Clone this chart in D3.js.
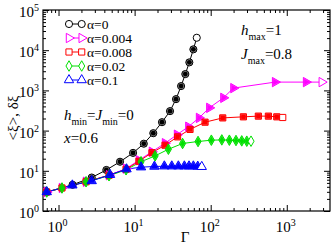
<!DOCTYPE html>
<html lang="en">
<head>
<meta charset="UTF-8">
<title>xi vs Gamma</title>
<style>
  body { margin: 0; background: #fff; }
  svg text { font-family: "Liberation Serif", "Times New Roman", serif; fill: #000; }
  .axis path { display: none; }
  .axis line { stroke: #000; stroke-width: 1; }
</style>
</head>
<body>
<svg id="chart"></svg>
<script src="https://cdnjs.cloudflare.com/ajax/libs/d3/7.9.0/d3.min.js"></script>
<script>
// data
const alphaLabels = ["α=0", "α=0.004", "α=0.008", "α=0.02", "α=0.1"];
const colors = ["#000000", "#ff00ff", "#ff0000", "#00e000", "#0000ff"];

const gammaA0 = [0.70, 1.53, 2.73, 4.25, 6.43, 9.54, 13.2, 17.6, 22.9, 29.2, 35.0, 40.8, 46.4, 52.4, 59.2, 65.6];
const xiA0 = [2.97, 4.49, 6.80, 10.5, 16.8, 27.9, 47.2, 86.2, 162, 305, 606, 1279, 2545, 4980, 10500, 20400];

const gammaA004 = [0.70, 1.11, 2.30, 4.61, 7.72, 11.4, 16.9, 25.1, 36.1, 50.9, 70.3, 96.0, 147, 199, 702, 1793, 2884];
const xiA004 = [2.97, 3.74, 5.34, 7.75, 11.3, 18.3, 29.8, 48.6, 79.1, 125, 207, 368, 653, 1140, 1608, 1608, 1608];

const gammaA008 = [0.70, 1.11, 2.30, 4.61, 7.72, 11.4, 16.9, 25.1, 36.7, 53.5, 84.3, 144, 269, 423, 573, 739, 885];
const xiA008 = [2.97, 3.74, 5.34, 7.75, 10.9, 17.3, 28.2, 43.3, 69.8, 107, 162, 207, 220, 229, 229, 220, 212];

const gammaA02 = [0.70, 1.11, 2.30, 4.61, 7.72, 12.15, 18.6, 27.8, 42.7, 68.2, 102, 140, 176, 215, 256, 298, 339];
const xiA02 = [2.97, 3.74, 5.34, 7.53, 10.6, 16.8, 23.5, 34.4, 47.8, 53.6, 57.7, 58.7, 57.7, 56.7, 55.5, 54.5, 54.5];

const gammaA1 = [0.70, 1.52, 2.73, 4.75, 7.83, 12.15, 18.2, 24.6, 30.8, 37.6, 45.1, 51.9, 59.2, 67.6, 76.3];
const xiA1 = [2.97, 4.37, 5.59, 7.98, 11.0, 12.3, 12.8, 13.0, 13.0, 13.0, 13.0, 13.0, 13.0, 12.8, 12.6];

const xDecades = [1, 10, 100, 1000];
const yDecades = [1, 10, 100, 1000, 10000, 100000];

const series = [
  { g: gammaA0, v: xiA0, sym: d3.symbolCircle, rot: 0, size: 40 },
  { g: gammaA004, v: xiA004, sym: d3.symbolTriangle, rot: 90, size: 38 },
  { g: gammaA008, v: xiA008, sym: d3.symbolSquare, rot: 0, size: 38 },
  { g: gammaA02, v: xiA02, sym: d3.symbolDiamond, rot: 0, size: 32 },
  { g: gammaA1, v: xiA1, sym: d3.symbolTriangle, rot: 0, size: 38 }
];

const W = 332, H = 246;
const mLeft = 43, mRight = 330, mTop = 10, mBottom = 211;

const svg = d3.select("#chart").attr("width", W).attr("height", H);

const x = d3.scaleLog().domain([0.625, 3700]).range([mLeft, mRight]);
const y = d3.scaleLog().domain([1, 1e5]).range([mBottom, mTop]);

// minor tick values
const xMinor = x.ticks().filter(d => !xDecades.includes(d));
const yMinor = y.ticks().filter(d => !yDecades.includes(d));

function addAxis(gen, tr, vals, size) {
  svg.append("g").attr("class", "axis").attr("transform", tr)
    .call(gen.tickValues(vals).tickSize(size).tickFormat(""));
}
addAxis(d3.axisBottom(x), `translate(0,${mBottom})`, xDecades, -6);
addAxis(d3.axisTop(x), `translate(0,${mTop})`, xDecades, -6);
addAxis(d3.axisBottom(x), `translate(0,${mBottom})`, xMinor, -3);
addAxis(d3.axisTop(x), `translate(0,${mTop})`, xMinor, -3);
addAxis(d3.axisLeft(y), `translate(${mLeft},0)`, yDecades, -6);
addAxis(d3.axisRight(y), `translate(${mRight},0)`, yDecades, -6);
addAxis(d3.axisLeft(y), `translate(${mLeft},0)`, yMinor, -3);
addAxis(d3.axisRight(y), `translate(${mRight},0)`, yMinor, -3);

// frame
svg.append("rect").attr("x", mLeft).attr("y", mTop)
  .attr("width", mRight - mLeft).attr("height", mBottom - mTop)
  .attr("fill", "none").attr("stroke", "#000").attr("stroke-width", 1.2);

// tick labels
xDecades.forEach(d => {
  const t = svg.append("text").attr("x", x(d) - 1).attr("y", 232)
    .attr("text-anchor", "middle").style("font-size", "15px");
  t.append("tspan").text("10");
  t.append("tspan").attr("dy", -6).style("font-size", "10px").text(Math.round(Math.log10(d)));
});
yDecades.forEach(d => {
  const t = svg.append("text").attr("x", 39).attr("y", y(d) + 7)
    .attr("text-anchor", "end").style("font-size", "15px");
  t.append("tspan").text("10");
  t.append("tspan").attr("dy", -6).style("font-size", "10px").text(Math.round(Math.log10(d)));
});

// axis titles
svg.append("text").attr("x", 185).attr("y", 242).attr("text-anchor", "middle")
  .style("font-size", "15px").text("Γ");
svg.append("text").attr("transform", "translate(18,118) rotate(-90)")
  .attr("text-anchor", "middle").style("font-size", "15px").text("<ξ>, δξ");

// curves
const line = d3.line().x(d => x(d[0])).y(d => y(d[1]));
const plot = svg.append("g");
series.forEach((s, i) => {
  const pts = s.g.map((g, j) => [g, s.v[j]]);
  plot.append("path").datum(pts).attr("d", line)
    .attr("fill", "none").attr("stroke", colors[i]).attr("stroke-width", 1);
});
series.forEach((s, i) => {
  const pts = s.g.map((g, j) => [g, s.v[j]]);
  const outer = d3.symbol().type(s.sym).size(s.size);
  const inner = d3.symbol().type(s.sym).size(s.size * 0.45);
  pts.forEach((p, j) => {
    const tr = `translate(${x(p[0])},${y(p[1])}) rotate(${s.rot})`;
    const last = j === pts.length - 1;
    plot.append("path").attr("d", outer).attr("transform", tr)
      .attr("fill", last ? "#fff" : (i === 0 ? "#888" : colors[i]))
      .attr("fill-opacity", last ? 1 : (i === 0 ? 1 : 0.75))
      .attr("stroke", colors[i]).attr("stroke-width", 1);
    if (!last) {
      plot.append("path").attr("d", inner).attr("transform", tr).attr("fill", colors[i]);
    }
  });
});

// legend
alphaLabels.forEach((lab, i) => {
  const yy = 24 + i * 14;
  const s = series[i];
  svg.append("line").attr("x1", 69).attr("x2", 81.7).attr("y1", yy).attr("y2", yy)
    .attr("stroke", colors[i]).attr("stroke-width", 1);
  [69, 81.7].forEach(xx => {
    svg.append("path").attr("d", d3.symbol().type(s.sym).size(s.size))
      .attr("transform", `translate(${xx},${yy}) rotate(${s.rot})`)
      .attr("fill", "#fff").attr("stroke", colors[i]).attr("stroke-width", 1);
  });
  svg.append("text").attr("x", 87).attr("y", yy + 4.5).style("font-size", "13.5px").text(lab);
});

// annotations
function subLabel(xx, yy, main, sub, rest) {
  const t = svg.append("text").attr("x", xx).attr("y", yy).style("font-size", "15px");
  t.append("tspan").style("font-style", "italic").text(main);
  t.append("tspan").attr("dy", 5).style("font-size", "10px").text(sub);
  t.append("tspan").attr("dy", -5).text(rest);
  return t;
}
subLabel(241, 35, "h", "max", "=1");
subLabel(241, 59, "J", "max", "=0.8");
const hm = svg.append("text").attr("x", 64).attr("y", 120).style("font-size", "15px");
hm.append("tspan").style("font-style", "italic").text("h");
hm.append("tspan").attr("dy", 5).style("font-size", "10px").text("min");
hm.append("tspan").attr("dy", -5).text("=");
hm.append("tspan").style("font-style", "italic").text("J");
hm.append("tspan").attr("dy", 5).style("font-size", "10px").text("min");
hm.append("tspan").attr("dy", -5).text("=0");
const xl = svg.append("text").attr("x", 64).attr("y", 143).style("font-size", "15px");
xl.append("tspan").style("font-style", "italic").text("x");
xl.append("tspan").text("=0.6");
</script>
</body>
</html>
